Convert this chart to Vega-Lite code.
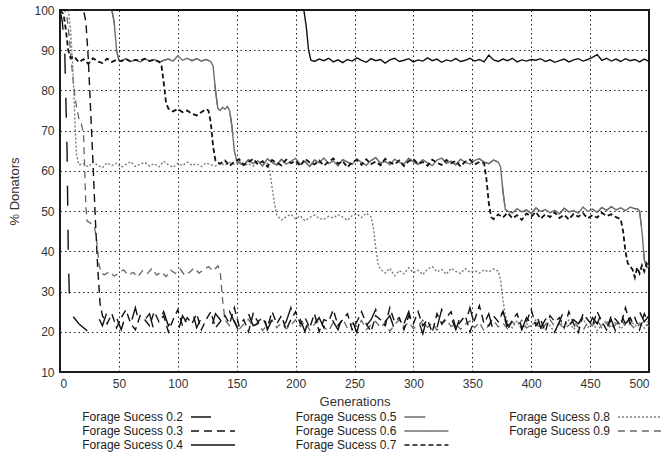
{
"$schema": "https://vega.github.io/schema/vega-lite/v6.json",
"padding": {"left": 7, "top": 3, "right": 2, "bottom": 2},
"config": {
 "font": "Liberation Sans",
 "view": {"stroke": "#1a1a1a", "strokeWidth": 2},
 "axis": {"grid": true, "gridColor": "#222", "gridDash": [1.5, 3], "gridWidth": 1, "ticks": false, "domain": false, "labelFont": "Liberation Sans", "labelFontSize": 12, "labelColor": "#333", "titleFont": "Liberation Sans", "titleFontSize": 13, "titleFontWeight": "normal", "titleColor": "#333", "labelPadding": 6},
 "axisX": {"titlePadding": 6},
 "axisY": {"titlePadding": 12}
},
"datasets": {
 "s2": [{"g":0,"v":100},{"g":2,"v":97},{"g":4,"v":90},{"g":6,"v":65},{"g":7,"v":40},{"g":8,"v":28},{"g":10,"v":24},{"g":12,"v":23.5},{"g":16,"v":22},{"g":20,"v":21},{"g":24,"v":20},{"g":28,"v":22.5},{"g":32,"v":24},{"g":36,"v":21.5},{"g":40,"v":25},{"g":44,"v":22},{"g":48,"v":23.5},{"g":52,"v":20.5},{"g":56,"v":24.5},{"g":60,"v":22},{"g":64,"v":26},{"g":68,"v":21},{"g":72,"v":23},{"g":76,"v":24.5},{"g":80,"v":20},{"g":84,"v":22.5},{"g":88,"v":25},{"g":92,"v":21.5},{"g":96,"v":23},{"g":100,"v":19.8},{"g":104,"v":24},{"g":108,"v":22},{"g":112,"v":25.5},{"g":116,"v":21},{"g":120,"v":23.5},{"g":124,"v":22},{"g":128,"v":20.5},{"g":132,"v":24.5},{"g":136,"v":23},{"g":140,"v":21},{"g":144,"v":25},{"g":148,"v":22.5},{"g":152,"v":20},{"g":156,"v":23.5},{"g":160,"v":24.5},{"g":164,"v":21.5},{"g":168,"v":22},{"g":172,"v":25.5},{"g":176,"v":20.5},{"g":180,"v":23},{"g":184,"v":24},{"g":188,"v":21},{"g":192,"v":22.5},{"g":196,"v":26},{"g":200,"v":21.5},{"g":204,"v":23},{"g":208,"v":20},{"g":212,"v":24.5},{"g":216,"v":22},{"g":220,"v":23.5},{"g":224,"v":21},{"g":228,"v":25},{"g":232,"v":22.5},{"g":236,"v":20.5},{"g":240,"v":24},{"g":244,"v":22},{"g":248,"v":23},{"g":252,"v":19.8},{"g":256,"v":24.5},{"g":260,"v":21.5},{"g":264,"v":23},{"g":268,"v":25.5},{"g":272,"v":21},{"g":276,"v":22.5},{"g":280,"v":24},{"g":284,"v":20.5},{"g":288,"v":23.5},{"g":292,"v":22},{"g":296,"v":25},{"g":300,"v":21},{"g":304,"v":23},{"g":308,"v":19.5},{"g":312,"v":24},{"g":316,"v":22.5},{"g":320,"v":21},{"g":324,"v":25.5},{"g":328,"v":22},{"g":332,"v":23.5},{"g":336,"v":20.5},{"g":340,"v":24},{"g":344,"v":22},{"g":348,"v":26},{"g":352,"v":21.5},{"g":356,"v":23},{"g":360,"v":22},{"g":364,"v":24.5},{"g":368,"v":20},{"g":372,"v":23},{"g":376,"v":25},{"g":380,"v":21.5},{"g":384,"v":22.5},{"g":388,"v":24},{"g":392,"v":20.5},{"g":396,"v":23.5},{"g":400,"v":22},{"g":404,"v":25},{"g":408,"v":21},{"g":412,"v":23},{"g":416,"v":24.5},{"g":420,"v":20},{"g":424,"v":22.5},{"g":428,"v":25.5},{"g":432,"v":21.5},{"g":436,"v":23},{"g":440,"v":22},{"g":444,"v":24},{"g":448,"v":20.5},{"g":452,"v":23.5},{"g":456,"v":22},{"g":460,"v":25},{"g":464,"v":21},{"g":468,"v":23},{"g":472,"v":19.8},{"g":476,"v":24.5},{"g":480,"v":22},{"g":484,"v":23.5},{"g":488,"v":21},{"g":492,"v":25},{"g":496,"v":22.5},{"g":500,"v":24}],
 "s3": [{"g":0,"v":100},{"g":20,"v":100},{"g":22,"v":97},{"g":24,"v":88},{"g":26,"v":75},{"g":28,"v":62},{"g":30,"v":48},{"g":32,"v":36},{"g":34,"v":27},{"g":36,"v":24},{"g":40,"v":22},{"g":44,"v":24.5},{"g":48,"v":21},{"g":52,"v":23.5},{"g":56,"v":25.5},{"g":60,"v":22},{"g":64,"v":20.5},{"g":68,"v":24},{"g":72,"v":23},{"g":76,"v":21.5},{"g":80,"v":25},{"g":84,"v":22.5},{"g":88,"v":24},{"g":92,"v":20},{"g":96,"v":23},{"g":100,"v":25.5},{"g":104,"v":21.5},{"g":108,"v":23.5},{"g":112,"v":22},{"g":116,"v":24.5},{"g":120,"v":20.5},{"g":124,"v":23},{"g":128,"v":25},{"g":132,"v":21},{"g":136,"v":22.5},{"g":140,"v":24},{"g":144,"v":22},{"g":148,"v":26},{"g":152,"v":21.5},{"g":156,"v":23},{"g":160,"v":20},{"g":164,"v":24.5},{"g":168,"v":22.5},{"g":172,"v":23.5},{"g":176,"v":21},{"g":180,"v":25},{"g":184,"v":22},{"g":188,"v":24},{"g":192,"v":20.5},{"g":196,"v":23},{"g":200,"v":25},{"g":204,"v":22},{"g":208,"v":23.5},{"g":212,"v":21},{"g":216,"v":24.5},{"g":220,"v":20},{"g":224,"v":23},{"g":228,"v":22.5},{"g":232,"v":25.5},{"g":236,"v":21.5},{"g":240,"v":23},{"g":244,"v":24.5},{"g":248,"v":20.5},{"g":252,"v":22.5},{"g":256,"v":25},{"g":260,"v":22},{"g":264,"v":20},{"g":268,"v":24},{"g":272,"v":23},{"g":276,"v":21.5},{"g":280,"v":26},{"g":284,"v":22.5},{"g":288,"v":23.5},{"g":292,"v":20.5},{"g":296,"v":24},{"g":300,"v":22},{"g":304,"v":25},{"g":308,"v":21.5},{"g":312,"v":23},{"g":316,"v":19.8},{"g":320,"v":24.5},{"g":324,"v":22},{"g":328,"v":23.5},{"g":332,"v":25},{"g":336,"v":21},{"g":340,"v":22.5},{"g":344,"v":24},{"g":348,"v":20},{"g":352,"v":23},{"g":356,"v":26.5},{"g":360,"v":22},{"g":364,"v":21.5},{"g":368,"v":24},{"g":372,"v":22.5},{"g":376,"v":25},{"g":380,"v":20.5},{"g":384,"v":23},{"g":388,"v":24.5},{"g":392,"v":21},{"g":396,"v":22.5},{"g":400,"v":25.5},{"g":404,"v":21.5},{"g":408,"v":23},{"g":412,"v":20},{"g":416,"v":24},{"g":420,"v":22.5},{"g":424,"v":23.5},{"g":428,"v":21},{"g":432,"v":25},{"g":436,"v":22},{"g":440,"v":19.8},{"g":444,"v":24.5},{"g":448,"v":23},{"g":452,"v":21.5},{"g":456,"v":25},{"g":460,"v":22.5},{"g":464,"v":20.5},{"g":468,"v":24},{"g":472,"v":23},{"g":476,"v":21.5},{"g":480,"v":26},{"g":484,"v":22},{"g":488,"v":23.5},{"g":492,"v":20.5},{"g":496,"v":24.5},{"g":500,"v":22}],
 "s4": [{"g":0,"v":100},{"g":207,"v":100},{"g":209,"v":96},{"g":211,"v":90},{"g":213,"v":87.5},{"g":216,"v":87.2},{"g":220,"v":87.8},{"g":224,"v":87.4},{"g":228,"v":88},{"g":232,"v":87.1},{"g":236,"v":87.6},{"g":240,"v":86.9},{"g":244,"v":87.7},{"g":248,"v":87.3},{"g":252,"v":88.1},{"g":256,"v":87.5},{"g":260,"v":87},{"g":264,"v":87.9},{"g":268,"v":87.4},{"g":272,"v":87.7},{"g":276,"v":86.8},{"g":280,"v":87.6},{"g":284,"v":88},{"g":288,"v":87.2},{"g":292,"v":87.5},{"g":296,"v":87.9},{"g":300,"v":87.1},{"g":304,"v":87.6},{"g":308,"v":87.3},{"g":312,"v":88.1},{"g":316,"v":87.4},{"g":320,"v":87.8},{"g":324,"v":87},{"g":328,"v":87.6},{"g":332,"v":87.3},{"g":336,"v":87.9},{"g":340,"v":87.2},{"g":344,"v":87.5},{"g":348,"v":88},{"g":352,"v":87.3},{"g":356,"v":87.7},{"g":360,"v":87.1},{"g":364,"v":88.8},{"g":368,"v":87.6},{"g":372,"v":87.2},{"g":376,"v":87.8},{"g":380,"v":87.4},{"g":384,"v":88},{"g":388,"v":87.1},{"g":392,"v":87.6},{"g":396,"v":87.3},{"g":400,"v":87.7},{"g":404,"v":87.5},{"g":408,"v":87.9},{"g":412,"v":87.2},{"g":416,"v":87.6},{"g":420,"v":87},{"g":424,"v":87.4},{"g":428,"v":87.8},{"g":432,"v":87.1},{"g":436,"v":87.6},{"g":440,"v":87.9},{"g":444,"v":87.3},{"g":448,"v":87.7},{"g":452,"v":88.2},{"g":456,"v":88.9},{"g":460,"v":87.5},{"g":464,"v":88},{"g":468,"v":87.3},{"g":472,"v":87.8},{"g":476,"v":87.2},{"g":480,"v":87.9},{"g":484,"v":87.4},{"g":488,"v":87.7},{"g":492,"v":87.1},{"g":496,"v":87.8},{"g":500,"v":87.2}],
 "s6": [{"g":0,"v":100},{"g":44,"v":100},{"g":46,"v":97},{"g":48,"v":90},{"g":50,"v":87.5},{"g":52,"v":87.3},{"g":56,"v":87.9},{"g":60,"v":87.2},{"g":64,"v":87.6},{"g":68,"v":87.1},{"g":72,"v":87.8},{"g":76,"v":87.4},{"g":80,"v":87.7},{"g":84,"v":87},{"g":88,"v":87.5},{"g":92,"v":87.8},{"g":96,"v":87.3},{"g":100,"v":88.6},{"g":104,"v":87.5},{"g":108,"v":88},{"g":112,"v":87.4},{"g":116,"v":87.9},{"g":120,"v":87.3},{"g":124,"v":87.7},{"g":128,"v":87.2},{"g":130,"v":86},{"g":132,"v":80},{"g":134,"v":75.5},{"g":136,"v":75},{"g":138,"v":75.8},{"g":140,"v":75.3},{"g":142,"v":76},{"g":144,"v":75},{"g":146,"v":71},{"g":148,"v":65},{"g":150,"v":62.5},{"g":152,"v":62},{"g":156,"v":61.4},{"g":160,"v":62.8},{"g":164,"v":61.8},{"g":168,"v":62.5},{"g":172,"v":61.2},{"g":176,"v":63},{"g":180,"v":62.1},{"g":184,"v":61.5},{"g":188,"v":62.9},{"g":192,"v":61.7},{"g":196,"v":62.4},{"g":200,"v":63.1},{"g":204,"v":61.6},{"g":208,"v":62.3},{"g":212,"v":61.1},{"g":216,"v":62.7},{"g":220,"v":62},{"g":224,"v":63.2},{"g":228,"v":61.8},{"g":232,"v":62.5},{"g":236,"v":61.3},{"g":240,"v":62.8},{"g":244,"v":62.2},{"g":248,"v":61.6},{"g":252,"v":63},{"g":256,"v":62.1},{"g":260,"v":61.4},{"g":264,"v":62.6},{"g":268,"v":63.3},{"g":272,"v":61.9},{"g":276,"v":62.4},{"g":280,"v":61.5},{"g":284,"v":62.9},{"g":288,"v":62.2},{"g":292,"v":61.7},{"g":296,"v":63.1},{"g":300,"v":62.3},{"g":304,"v":61.6},{"g":308,"v":62.8},{"g":312,"v":62},{"g":316,"v":61.3},{"g":320,"v":62.7},{"g":324,"v":63.2},{"g":328,"v":61.9},{"g":332,"v":62.4},{"g":336,"v":61.5},{"g":340,"v":62.9},{"g":344,"v":62.1},{"g":348,"v":61.7},{"g":352,"v":62.6},{"g":356,"v":63},{"g":360,"v":62.2},{"g":364,"v":61.8},{"g":368,"v":62.7},{"g":372,"v":62.2},{"g":374,"v":61},{"g":376,"v":55},{"g":378,"v":50.5},{"g":380,"v":50},{"g":384,"v":49.5},{"g":388,"v":50.6},{"g":392,"v":49.8},{"g":396,"v":50.3},{"g":400,"v":49.4},{"g":404,"v":50.8},{"g":408,"v":49.9},{"g":412,"v":50.4},{"g":416,"v":49.6},{"g":420,"v":50.2},{"g":424,"v":49.3},{"g":428,"v":50.7},{"g":432,"v":49.8},{"g":436,"v":50.1},{"g":440,"v":49.5},{"g":444,"v":51},{"g":448,"v":49.9},{"g":452,"v":50.5},{"g":456,"v":49.7},{"g":460,"v":50.9},{"g":464,"v":50.2},{"g":468,"v":51.1},{"g":472,"v":50.3},{"g":476,"v":50.8},{"g":480,"v":50.1},{"g":484,"v":51},{"g":488,"v":50.6},{"g":490,"v":50.6},{"g":492,"v":50},{"g":494,"v":45},{"g":496,"v":38},{"g":498,"v":36},{"g":500,"v":36.5}],
 "s7": [{"g":0,"v":100},{"g":3,"v":99},{"g":5,"v":95},{"g":7,"v":90},{"g":9,"v":88},{"g":12,"v":88.5},{"g":16,"v":87},{"g":20,"v":87.8},{"g":24,"v":86.6},{"g":28,"v":88},{"g":32,"v":87.2},{"g":36,"v":86.8},{"g":40,"v":87.9},{"g":44,"v":87.1},{"g":48,"v":87.6},{"g":52,"v":87.3},{"g":56,"v":87.8},{"g":60,"v":87.2},{"g":64,"v":87.6},{"g":68,"v":87.4},{"g":72,"v":87.9},{"g":76,"v":87.3},{"g":80,"v":87.6},{"g":84,"v":87.2},{"g":86,"v":86.5},{"g":88,"v":82},{"g":90,"v":77},{"g":92,"v":75.5},{"g":96,"v":74.8},{"g":100,"v":75.4},{"g":104,"v":74.6},{"g":108,"v":75},{"g":112,"v":74.2},{"g":116,"v":73.8},{"g":120,"v":74.6},{"g":124,"v":75.4},{"g":126,"v":75},{"g":128,"v":72},{"g":130,"v":66},{"g":132,"v":62.5},{"g":136,"v":61.8},{"g":140,"v":62.6},{"g":144,"v":61.2},{"g":148,"v":62.3},{"g":152,"v":62.9},{"g":156,"v":61.5},{"g":160,"v":62.2},{"g":164,"v":63},{"g":168,"v":61.6},{"g":172,"v":62.4},{"g":176,"v":61.1},{"g":180,"v":62.7},{"g":184,"v":62},{"g":188,"v":61.4},{"g":192,"v":62.8},{"g":196,"v":61.9},{"g":200,"v":62.5},{"g":204,"v":61.2},{"g":208,"v":63},{"g":212,"v":62.1},{"g":216,"v":61.6},{"g":220,"v":62.6},{"g":224,"v":61.3},{"g":228,"v":62.3},{"g":232,"v":63.1},{"g":236,"v":61.8},{"g":240,"v":62.4},{"g":244,"v":60.9},{"g":248,"v":62.2},{"g":252,"v":62.7},{"g":256,"v":61.5},{"g":260,"v":62.9},{"g":264,"v":61.7},{"g":268,"v":62.3},{"g":272,"v":61.4},{"g":276,"v":63},{"g":280,"v":62.1},{"g":284,"v":61.6},{"g":288,"v":62.6},{"g":292,"v":61.2},{"g":296,"v":62.4},{"g":300,"v":62.9},{"g":304,"v":61.7},{"g":308,"v":62.2},{"g":312,"v":61.3},{"g":316,"v":62.8},{"g":320,"v":62},{"g":324,"v":61.5},{"g":328,"v":62.7},{"g":332,"v":61.9},{"g":336,"v":62.5},{"g":340,"v":61.1},{"g":344,"v":62.3},{"g":348,"v":62.8},{"g":352,"v":61.6},{"g":356,"v":62.2},{"g":360,"v":61.9},{"g":362,"v":58},{"g":364,"v":52},{"g":366,"v":48.5},{"g":368,"v":48},{"g":372,"v":49.2},{"g":376,"v":48.4},{"g":380,"v":49.6},{"g":384,"v":48.2},{"g":388,"v":49},{"g":392,"v":47.8},{"g":396,"v":49.4},{"g":400,"v":48.6},{"g":404,"v":49.8},{"g":408,"v":48.1},{"g":412,"v":49.2},{"g":416,"v":48.5},{"g":420,"v":49.7},{"g":424,"v":48.3},{"g":428,"v":49.1},{"g":432,"v":47.9},{"g":436,"v":49.3},{"g":440,"v":48.6},{"g":444,"v":49.5},{"g":448,"v":48.2},{"g":452,"v":49},{"g":456,"v":48.4},{"g":460,"v":49.6},{"g":464,"v":48.8},{"g":468,"v":49.2},{"g":472,"v":48.5},{"g":476,"v":48},{"g":478,"v":45},{"g":480,"v":40},{"g":482,"v":37},{"g":486,"v":35.5},{"g":488,"v":33.5},{"g":490,"v":36},{"g":492,"v":34.5},{"g":494,"v":36.5},{"g":496,"v":35},{"g":498,"v":37},{"g":500,"v":36}],
 "s8": [{"g":0,"v":100},{"g":7,"v":100},{"g":9,"v":95},{"g":11,"v":85},{"g":13,"v":70},{"g":14,"v":64},{"g":16,"v":61.5},{"g":20,"v":61.8},{"g":24,"v":61},{"g":28,"v":62.2},{"g":32,"v":61.4},{"g":36,"v":60.8},{"g":40,"v":62},{"g":44,"v":61.3},{"g":48,"v":61.9},{"g":52,"v":60.9},{"g":56,"v":61.6},{"g":60,"v":62.3},{"g":64,"v":61.1},{"g":68,"v":61.7},{"g":72,"v":62.1},{"g":76,"v":61.2},{"g":80,"v":61.8},{"g":84,"v":61},{"g":88,"v":62.4},{"g":92,"v":61.5},{"g":96,"v":60.9},{"g":100,"v":61.9},{"g":104,"v":61.3},{"g":108,"v":62.2},{"g":112,"v":61.4},{"g":116,"v":61.8},{"g":120,"v":61.1},{"g":124,"v":62},{"g":128,"v":61.5},{"g":132,"v":61.2},{"g":136,"v":61.9},{"g":140,"v":61.4},{"g":144,"v":62.1},{"g":148,"v":61.6},{"g":152,"v":62.4},{"g":156,"v":61.3},{"g":160,"v":61.8},{"g":164,"v":61.2},{"g":168,"v":62.2},{"g":172,"v":61.6},{"g":176,"v":61.9},{"g":178,"v":60},{"g":180,"v":56},{"g":182,"v":52},{"g":184,"v":49},{"g":188,"v":47.8},{"g":192,"v":48.6},{"g":196,"v":49.2},{"g":200,"v":48.1},{"g":204,"v":48.8},{"g":208,"v":47.6},{"g":212,"v":48.4},{"g":216,"v":49},{"g":220,"v":48.2},{"g":224,"v":47.9},{"g":228,"v":48.7},{"g":232,"v":48.3},{"g":236,"v":49.1},{"g":240,"v":48.5},{"g":244,"v":47.7},{"g":248,"v":48.9},{"g":252,"v":49.3},{"g":256,"v":48.4},{"g":260,"v":49.5},{"g":264,"v":48.6},{"g":266,"v":46},{"g":268,"v":41},{"g":270,"v":37},{"g":272,"v":35.5},{"g":276,"v":34.6},{"g":280,"v":35.8},{"g":284,"v":33.9},{"g":288,"v":35.2},{"g":292,"v":34.4},{"g":296,"v":35.9},{"g":300,"v":34.7},{"g":304,"v":35.3},{"g":308,"v":34.2},{"g":312,"v":35.6},{"g":316,"v":36.2},{"g":320,"v":34.9},{"g":324,"v":35.5},{"g":328,"v":34.3},{"g":332,"v":35.8},{"g":336,"v":35},{"g":340,"v":34.5},{"g":344,"v":35.7},{"g":348,"v":34.8},{"g":352,"v":35.2},{"g":356,"v":34.6},{"g":360,"v":35.4},{"g":364,"v":34.9},{"g":368,"v":35.6},{"g":372,"v":35.1},{"g":374,"v":33},{"g":376,"v":28},{"g":378,"v":24},{"g":380,"v":22.5},{"g":384,"v":21},{"g":388,"v":22.8},{"g":392,"v":20.5},{"g":396,"v":22},{"g":400,"v":21.3},{"g":404,"v":23},{"g":408,"v":20.8},{"g":412,"v":22.3},{"g":416,"v":21.5},{"g":420,"v":19.8},{"g":424,"v":22.6},{"g":428,"v":21.2},{"g":432,"v":22.9},{"g":436,"v":20.6},{"g":440,"v":21.8},{"g":444,"v":23.2},{"g":448,"v":21},{"g":452,"v":22.4},{"g":456,"v":20.3},{"g":460,"v":21.7},{"g":464,"v":22.8},{"g":468,"v":21.1},{"g":472,"v":22.5},{"g":476,"v":20.7},{"g":480,"v":21.9},{"g":484,"v":23},{"g":488,"v":21.4},{"g":492,"v":22.2},{"g":496,"v":20.9},{"g":500,"v":22.5}],
 "s9": [{"g":0,"v":100},{"g":4,"v":100},{"g":6,"v":98},{"g":8,"v":93},{"g":10,"v":86},{"g":12,"v":80},{"g":14,"v":76},{"g":16,"v":73},{"g":18,"v":72},{"g":20,"v":69},{"g":21,"v":60},{"g":22,"v":51},{"g":23,"v":47.5},{"g":26,"v":47},{"g":29,"v":46.5},{"g":31,"v":43},{"g":33,"v":37},{"g":35,"v":34.5},{"g":38,"v":34.2},{"g":42,"v":35},{"g":46,"v":33.8},{"g":50,"v":34.6},{"g":54,"v":35.4},{"g":58,"v":34},{"g":62,"v":34.8},{"g":66,"v":33.6},{"g":70,"v":35.2},{"g":74,"v":34.4},{"g":78,"v":35.8},{"g":82,"v":34.1},{"g":86,"v":34.9},{"g":90,"v":33.7},{"g":94,"v":35.3},{"g":98,"v":34.5},{"g":102,"v":35.6},{"g":106,"v":34},{"g":110,"v":34.8},{"g":114,"v":35.9},{"g":118,"v":34.6},{"g":122,"v":35.4},{"g":126,"v":36.2},{"g":130,"v":35.1},{"g":134,"v":36.4},{"g":136,"v":35},{"g":138,"v":28},{"g":140,"v":23},{"g":144,"v":21.5},{"g":148,"v":22.8},{"g":152,"v":20.6},{"g":156,"v":21.9},{"g":160,"v":23.1},{"g":164,"v":21.2},{"g":168,"v":22.4},{"g":172,"v":20.3},{"g":176,"v":21.8},{"g":180,"v":22.9},{"g":184,"v":21},{"g":188,"v":22.2},{"g":192,"v":20.7},{"g":196,"v":21.6},{"g":200,"v":23},{"g":204,"v":21.3},{"g":208,"v":22.5},{"g":212,"v":20.4},{"g":216,"v":21.9},{"g":220,"v":22.7},{"g":224,"v":21.1},{"g":228,"v":20.2},{"g":232,"v":22.3},{"g":236,"v":21.6},{"g":240,"v":23.2},{"g":244,"v":20.9},{"g":248,"v":22},{"g":252,"v":21.4},{"g":256,"v":22.8},{"g":260,"v":20.5},{"g":264,"v":21.7},{"g":268,"v":22.6},{"g":272,"v":21},{"g":276,"v":22.3},{"g":280,"v":20.1},{"g":284,"v":21.8},{"g":288,"v":23},{"g":292,"v":21.2},{"g":296,"v":22.4},{"g":300,"v":20.8},{"g":304,"v":21.5},{"g":308,"v":22.9},{"g":312,"v":21.1},{"g":316,"v":22.2},{"g":320,"v":20.4},{"g":324,"v":21.7},{"g":328,"v":23.1},{"g":332,"v":21.3},{"g":336,"v":22},{"g":340,"v":20.6},{"g":344,"v":21.9},{"g":348,"v":22.7},{"g":352,"v":21},{"g":356,"v":22.4},{"g":360,"v":20.2},{"g":364,"v":21.6},{"g":368,"v":22.8},{"g":372,"v":21.2},{"g":376,"v":22.1},{"g":380,"v":20.7},{"g":384,"v":22.5},{"g":388,"v":21.4},{"g":392,"v":22.9},{"g":396,"v":20.9},{"g":400,"v":21.8},{"g":404,"v":22.3},{"g":408,"v":20.5},{"g":412,"v":21.7},{"g":416,"v":23},{"g":420,"v":21.3},{"g":424,"v":22},{"g":428,"v":20.8},{"g":432,"v":21.6},{"g":436,"v":22.7},{"g":440,"v":21.1},{"g":444,"v":20.3},{"g":448,"v":22.4},{"g":452,"v":21.5},{"g":456,"v":22.9},{"g":460,"v":21},{"g":464,"v":22.2},{"g":468,"v":20.6},{"g":472,"v":21.9},{"g":476,"v":23.1},{"g":480,"v":21.4},{"g":484,"v":22},{"g":488,"v":20.7},{"g":492,"v":21.8},{"g":496,"v":22.6},{"g":500,"v":21.2}],
 "legend": [
  {"s":"0.2","label":"Forage Sucess 0.2","c":0,"r":0},
  {"s":"0.3","label":"Forage Sucess 0.3","c":0,"r":1},
  {"s":"0.4","label":"Forage Sucess 0.4","c":0,"r":2},
  {"s":"0.5","label":"Forage Sucess 0.5","c":1,"r":0},
  {"s":"0.6","label":"Forage Sucess 0.6","c":1,"r":1},
  {"s":"0.7","label":"Forage Sucess 0.7","c":1,"r":2},
  {"s":"0.8","label":"Forage Sucess 0.8","c":2,"r":0},
  {"s":"0.9","label":"Forage Sucess 0.9","c":2,"r":1}
 ]
},
"vconcat": [
 {
  "width": 589, "height": 362,
  "encoding": {
   "x": {"field": "g", "type": "quantitative", "scale": {"domain": [0, 500], "nice": false, "zero": false}, "axis": {"title": "Generations", "values": [0,50,100,150,200,250,300,350,400,450,500]}},
   "y": {"field": "v", "type": "quantitative", "scale": {"domain": [10, 100], "nice": false, "zero": false}, "axis": {"title": "% Donators", "values": [10,20,30,40,50,60,70,80,90,100]}}
  },
  "layer": [
   {"data": {"name": "s6"}, "mark": {"type": "line", "stroke": "#6e6e6e", "strokeWidth": 1.3, "strokeDash": [21, 25]}},
   {"data": {"name": "s9"}, "mark": {"type": "line", "stroke": "#666666", "strokeWidth": 1.3, "strokeDash": [7, 5]}},
   {"data": {"name": "s8"}, "mark": {"type": "line", "stroke": "#7a7a7a", "strokeWidth": 1.4, "strokeDash": [2, 2]}},
   {"data": {"name": "s6"}, "mark": {"type": "line", "stroke": "#6e6e6e", "strokeWidth": 1.4}},
   {"data": {"name": "s2"}, "mark": {"type": "line", "stroke": "#111111", "strokeWidth": 1.4, "strokeDash": [20, 24]}},
   {"data": {"name": "s3"}, "mark": {"type": "line", "stroke": "#111111", "strokeWidth": 1.4, "strokeDash": [8, 5]}},
   {"data": {"name": "s7"}, "mark": {"type": "line", "stroke": "#111111", "strokeWidth": 1.8, "strokeDash": [5, 3]}},
   {"data": {"name": "s4"}, "mark": {"type": "line", "stroke": "#111111", "strokeWidth": 1.4}}
  ]
 },
 {
  "width": 589, "height": 42,
  "view": {"stroke": null},
  "data": {"name": "legend"},
  "encoding": {
   "x": {"field": "c", "type": "quantitative", "scale": {"domain": [-0.576, 2.183], "nice": false, "zero": false}, "axis": null},
   "y": {"field": "r", "type": "quantitative", "scale": {"domain": [-0.5, 2.5], "reverse": true, "nice": false, "zero": false}, "axis": null}
  },
  "layer": [
   {"mark": {"type": "text", "align": "right", "baseline": "middle", "fontSize": 12, "color": "#222"}, "encoding": {"text": {"field": "label"}}},
   {"mark": {"type": "rule", "xOffset": 8, "x2Offset": 52, "strokeWidth": 1.5},
    "encoding": {
     "x2": {"field": "c"},
     "color": {"field": "s", "type": "nominal", "legend": null, "scale": {"domain": ["0.2","0.3","0.4","0.5","0.6","0.7","0.8","0.9"], "range": ["#111111","#111111","#111111","#6e6e6e","#6e6e6e","#111111","#7a7a7a","#666666"]}},
     "strokeDash": {"field": "s", "type": "nominal", "legend": null, "scale": {"domain": ["0.2","0.3","0.4","0.5","0.6","0.7","0.8","0.9"], "range": [[20,24],[8,5],[1,0],[21,25],[1,0],[5,3],[2,2],[7,5]]}}
    }}
  ]
 }
],
"spacing": 1
}
